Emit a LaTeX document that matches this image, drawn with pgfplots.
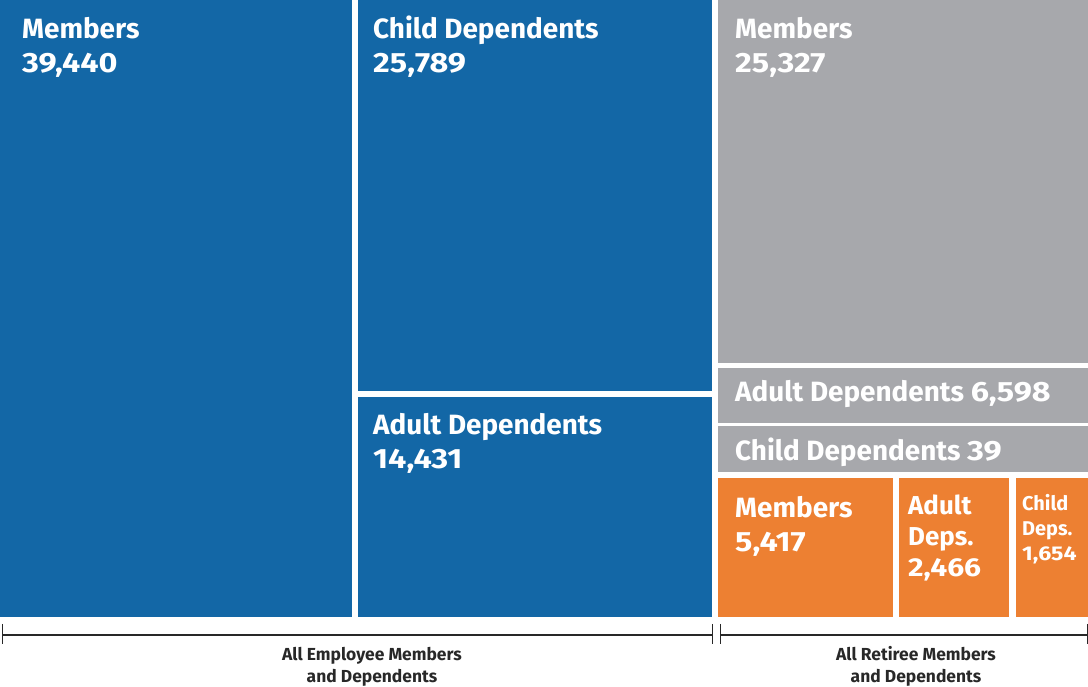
\documentclass[border=0pt]{standalone}
\usepackage{fontspec}
\setmainfont{Fira Sans}
\newfontfamily\numfont[FakeStretch=1.16]{Fira Sans}
\newcommand\num[1]{{\numfont #1}}
\usepackage{pgfplots}
\pgfplotsset{compat=1.18}

\definecolor{empblue}{RGB}{19,103,166}
\definecolor{retgray}{RGB}{167,168,172}
\definecolor{retorange}{RGB}{237,128,50}
\definecolor{bracketgray}{RGB}{40,40,40}

\begin{document}
\begin{tikzpicture}[
    tile/.style={draw=none, fill=#1},
    lbl/.style={anchor=base west, text=white, font=\bfseries\fontsize{28}{35}\selectfont, align=left, inner sep=0pt},
    grp/.style={anchor=base, text=bracketgray, font=\bfseries\fontsize{17.5}{23}\selectfont, align=center, inner sep=0pt},
]
\begin{axis}[
    width=1088bp, height=690bp, scale only axis,
    xmin=0, xmax=1088, ymin=0, ymax=690,
    y dir=reverse,
    hide axis, clip=false,
    no markers,
]
% employees
\addplot[tile=empblue] coordinates {(0,3) (352,3) (352,620) (0,620)} -- cycle;
\addplot[tile=empblue] coordinates {(358,3) (712,3) (712,394) (358,394)} -- cycle;
\addplot[tile=empblue] coordinates {(358,400) (712,400) (712,620) (358,620)} -- cycle;
% retirees
\addplot[tile=retgray] coordinates {(718,3) (1088,3) (1088,366) (718,366)} -- cycle;
\addplot[tile=retgray] coordinates {(718,371) (1088,371) (1088,426) (718,426)} -- cycle;
\addplot[tile=retgray] coordinates {(718,429) (1088,429) (1088,475) (718,475)} -- cycle;
\addplot[tile=retorange] coordinates {(718,481) (893,481) (893,620) (718,620)} -- cycle;
\addplot[tile=retorange] coordinates {(899,481) (1009,481) (1009,620) (899,620)} -- cycle;
\addplot[tile=retorange] coordinates {(1016,481) (1088,481) (1088,620) (1016,620)} -- cycle;

% brackets
\addplot[bracketgray, line width=1.2bp] coordinates {(2,638) (712,638)};
\addplot[bracketgray, line width=0.8bp] coordinates {(2,627) (2,647)};
\addplot[bracketgray, line width=0.8bp] coordinates {(712,627) (712,647)};
\addplot[bracketgray, line width=1.2bp] coordinates {(720,638) (1087,638)};
\addplot[bracketgray, line width=0.8bp] coordinates {(720,627) (720,647)};
\addplot[bracketgray, line width=0.8bp] coordinates {(1087,627) (1087,647)};

% labels (anchored at the baseline of the last line)
\node[lbl] at (axis cs:22,76) {Members\\\num{39,440}};
\node[lbl] at (axis cs:373,76) {Child Dependents\\\num{25,789}};
\node[lbl] at (axis cs:373,472) {Adult Dependents\\\num{14,431}};
\node[lbl] at (axis cs:735,76) {Members\\\num{25,327}};
\node[lbl] at (axis cs:735,405) {Adult Dependents \num{6,598}};
\node[lbl] at (axis cs:735,464) {Child Dependents \num{39}};
\node[lbl] at (axis cs:735,555) {Members\\\num{5,417}};
\node[lbl, font=\bfseries\fontsize{26}{31.5}\selectfont] at (axis cs:908,580) {Adult\\Deps.\\\num{2,466}};
\node[lbl, font=\bfseries\fontsize{20}{25.5}\selectfont] at (axis cs:1022,564) {Child\\Deps.\\\num{1,654}};

\node[grp] at (axis cs:372,686) {All Employee Members\\and Dependents};
\node[grp] at (axis cs:916,686) {All Retiree Members\\and Dependents};
\end{axis}
\end{tikzpicture}
\end{document}
